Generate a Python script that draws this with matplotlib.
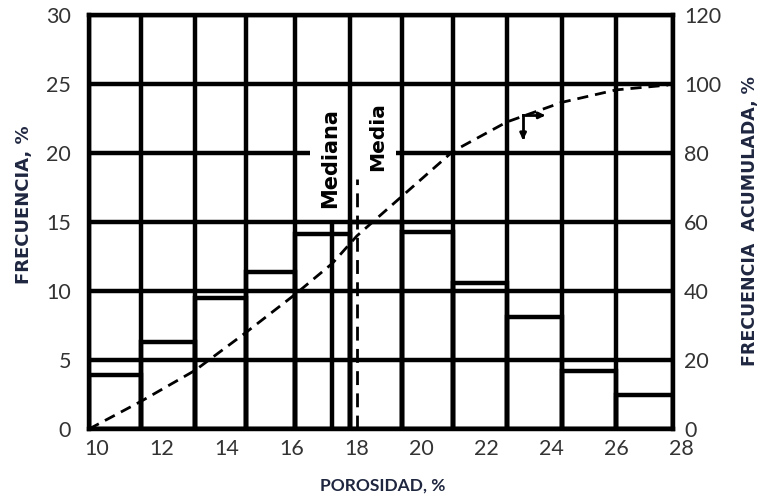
import numpy as np
import matplotlib
matplotlib.use("Agg")
import matplotlib.pyplot as plt
import matplotlib.transforms as mtransforms

plt.rcParams['font.family'] = ['Lato', 'DejaVu Sans']

# histogram bins (porosity, %) and frequency (%)
bin_edges = [10, 11.6, 13.27, 14.84, 16.35, 18.05, 19.65, 21.22, 22.88, 24.58, 26.25, 28]
frequency = [3.9, 6.3, 9.5, 11.4, 14.1, 15.0, 14.3, 10.6, 8.1, 4.2, 2.5]

# cumulative frequency curve (%)
cum_x = [10, 11.6, 13.27, 14.84, 16.35, 17.5, 18.26, 19.65, 21.22, 22.88, 24.58, 26.25, 27.85]
cum_y = [0, 8, 17, 28, 39, 48, 56, 67.5, 80.5, 89, 94.7, 98.3, 99.7]

mediana_x = 17.5
media_x = 18.26
media_top = 18.1

freq_ticks = [0, 5, 10, 15, 20, 25, 30]
cum_ticks = [0, 20, 40, 60, 80, 100, 120]
x_ticks = [10, 12, 14, 16, 18, 20, 22, 24, 26, 28]

LW = 3.2
label_color = '#1f2740'
tick_color = '#333333'
wide = ['DejaVu Sans']

fig = plt.figure(figsize=(7.63, 4.99), dpi=100)
ax = fig.add_axes([89 / 763, 70 / 499, 584 / 763, 414 / 499])
ax.set_xlim(10, 28)
ax.set_ylim(0, 30)

# grid: vertical lines at bin edges, horizontal every 5
ax.vlines(bin_edges, 0, 30, color='black', lw=LW, zorder=2)
for yv in freq_ticks:
    if yv == 20:
        ax.hlines(yv, 10, 16.8, color='black', lw=LW, zorder=2)
        ax.hlines(yv, 19.45, 28, color='black', lw=LW, zorder=2)
    else:
        ax.hlines(yv, 10, 28, color='black', lw=LW, zorder=2)

# histogram bars
ax.bar(bin_edges[:-1], frequency, width=np.diff(bin_edges), align='edge',
       fill=False, edgecolor='black', lw=LW, zorder=3)

# mediana and media lines
ax.vlines(mediana_x, 0, 15, color='black', lw=LW, zorder=3)
ax.plot([media_x, media_x], [0, media_top], color='black', lw=2,
        dashes=(5, 3), zorder=3)
ax.text(17.43, 19.6, 'Mediana', rotation=90, ha='center', va='center',
        fontsize=15, fontweight='bold', color='black', family=wide, zorder=4)
ax.text(18.9, 21.2, 'Media', rotation=90, ha='center', va='center',
        fontsize=14.5, fontweight='bold', color='black', family=wide, zorder=4)

for s in ax.spines.values():
    s.set_linewidth(LW)

ax.set_xticks(x_ticks)
ax.set_yticks(freq_ticks)
ax.tick_params(axis='both', length=0, labelsize=15.5, labelcolor=tick_color)
ax.tick_params(axis='x', pad=7)
ax.tick_params(axis='y', pad=13)
offset = mtransforms.ScaledTranslation(8 / 100, 0, fig.dpi_scale_trans)
for lab in ax.get_xticklabels():
    lab.set_transform(lab.get_transform() + offset)

ax.set_xlabel('POROSIDAD, %', fontsize=12.5, fontweight='bold', color=label_color)
ax.xaxis.set_label_coords(0.503, -0.118)
ax.set_ylabel('FRECUENCIA, %', fontsize=13, fontweight='bold', color=label_color,
              family=wide)
ax.yaxis.set_label_coords(-0.096, 0.543)

# cumulative axis
ax2 = ax.twinx()
ax2.set_ylim(0, 120)
ax2.set_yticks(cum_ticks)
ax2.tick_params(axis='y', length=0, labelsize=15.5, labelcolor=tick_color, pad=8)
for s in ax2.spines.values():
    s.set_visible(False)
ax2.plot(cum_x, cum_y, color='black', lw=2, dashes=(4, 2.5), zorder=5)

# arrow marker on the curve
ax2.plot([23.38, 23.38], [90.9, 84.5], color='black', lw=2)
ax2.plot([23.38, 23.9], [90.9, 90.9], color='black', lw=2)
ax2.annotate('', xy=(23.38, 83.0), xytext=(23.38, 86.0),
             arrowprops=dict(arrowstyle='-|>', color='black', lw=2, mutation_scale=9))
ax2.annotate('', xy=(24.15, 90.9), xytext=(23.8, 90.9),
             arrowprops=dict(arrowstyle='-|>', color='black', lw=2, mutation_scale=9))

ax2.set_ylabel('FRECUENCIA  ACUMULADA, %', fontsize=12.5, fontweight='bold',
               color=label_color, rotation=90, family=wide)
ax2.yaxis.set_label_coords(1.117, 0.502)

fig.savefig('out.png', dpi=100)
